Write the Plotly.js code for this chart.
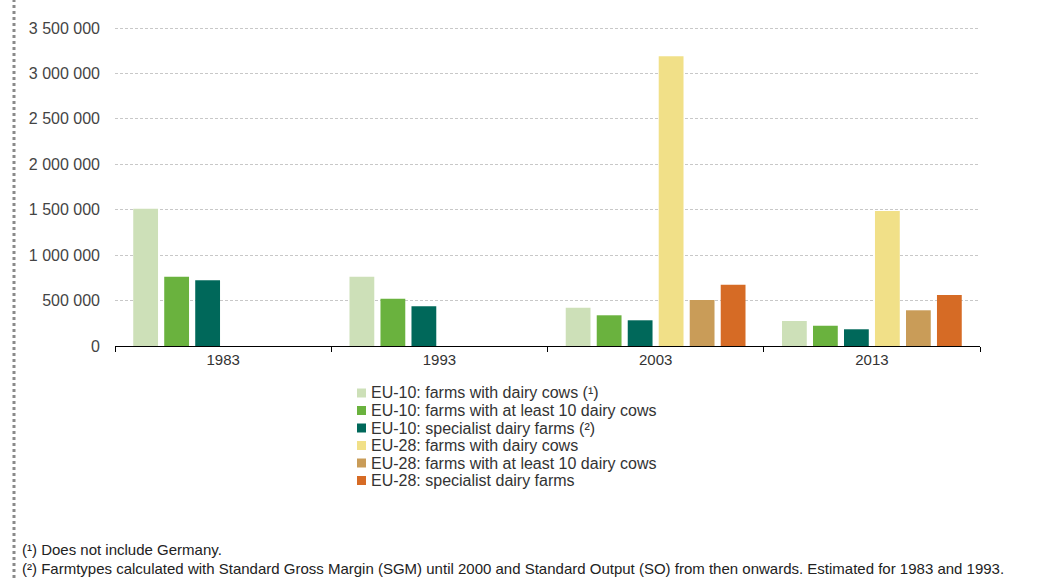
<!DOCTYPE html>
<html>
<head>
<meta charset="utf-8">
<script src="https://cdn.plot.ly/plotly-3.0.1.min.js"></script>
<style>
html,body{margin:0;padding:0;background:#fff;}
#chart{width:1046px;height:578px;}
</style>
</head>
<body>
<div id="chart"></div>
<script>
const years = ["1983", "1993", "2003", "2013"];
const seriesNames = [
  "EU-10: farms with dairy cows (¹)",
  "EU-10: farms with at least 10 dairy cows",
  "EU-10: specialist dairy farms (²)",
  "EU-28: farms with dairy cows",
  "EU-28: farms with at least 10 dairy cows",
  "EU-28: specialist dairy farms"
];
const eu10Farms = [1510000, 762000, 421000, 275000];
const eu10Farms10 = [762000, 520000, 338000, 223000];
const eu10Specialist = [723000, 437000, 283000, 184000];
const eu28Farms = [null, null, 3190000, 1485000];
const eu28Farms10 = [null, null, 506000, 393000];
const eu28Specialist = [null, null, 674000, 561000];
const seriesValues = [eu10Farms, eu10Farms10, eu10Specialist, eu28Farms, eu28Farms10, eu28Specialist];
const colors = ["#cde0b8", "#6ab23e", "#00685a", "#f1e088", "#c99c58", "#d66b25"];
const yTicks = [0, 500000, 1000000, 1500000, 2000000, 2500000, 3000000, 3500000];
const yTickText = ["0", "500 000", "1 000 000", "1 500 000", "2 000 000", "2 500 000", "3 000 000", "3 500 000"];
const footnotes = [
  "(¹) Does not include Germany.",
  "(²) Farmtypes calculated with Standard Gross Margin (SGM) until 2000 and Standard Output (SO) from then onwards. Estimated for 1983 and 1993."
];

const FONT = "Liberation Sans, Arial, sans-serif";
const W = 1046, H = 578;
const M = {l: 115, r: 66, t: 24, b: 232};
const PW = W - M.l - M.r, PH = H - M.t - M.b;
const px = x => (x - M.l) / PW;          // pixel -> paper x
const py = y => (H - M.b - y) / PH;      // pixel -> paper y

const traces = seriesNames.map((n, i) => ({
  type: "bar",
  name: n,
  x: years,
  y: seriesValues[i],
  marker: {color: colors[i], line: {width: 0}},
  hoverinfo: "x+y+name"
}));

// custom legend (tight rows, like the original)
const legendRows = [393, 410.5, 428, 445.5, 463, 480.5];
const legendShapes = seriesNames.map((n, i) => ({
  type: "rect", xref: "paper", yref: "paper",
  x0: px(357), x1: px(366), y0: py(legendRows[i] + 4.5), y1: py(legendRows[i] - 4.5),
  fillcolor: colors[i], line: {width: 0}
}));
const legendAnn = seriesNames.map((n, i) => ({
  text: n, xref: "paper", yref: "paper",
  x: px(369), y: py(legendRows[i]), xanchor: "left", yanchor: "middle",
  showarrow: false, font: {family: FONT, size: 16, color: "#333333"}
}));

const layout = {
  width: W, height: H,
  margin: M,
  paper_bgcolor: "#ffffff", plot_bgcolor: "#ffffff",
  barmode: "group", bargap: 0.14, bargroupgap: 0.2,
  font: {family: FONT, color: "#333333"},
  showlegend: false,
  xaxis: {
    type: "category",
    tickson: "boundaries", ticks: "outside", ticklen: 5, tickcolor: "#000",
    showline: true, linecolor: "#000", linewidth: 1,
    showgrid: false, tickfont: {size: 15, color: "#333333"},
    fixedrange: true
  },
  yaxis: {
    range: [0, 3500000 * PH / 318],
    tickvals: yTicks, ticktext: yTickText,
    showgrid: true, gridcolor: "#c8c8c8", griddash: "3px,2px", gridwidth: 1,
    zeroline: false, showline: false, ticks: "",
    tickfont: {size: 16, color: "#444444"}, ticklabelstandoff: 14,
    fixedrange: true
  },
  shapes: [{
    type: "line", xref: "paper", yref: "paper",
    x0: px(14), x1: px(14), y0: py(H), y1: py(0),
    line: {color: "#8a8a8a", width: 3, dash: "dot"}
  }].concat(legendShapes),
  annotations: footnotes.map((t, i) => ({
    text: t, xref: "paper", yref: "paper",
    x: px(20), y: py(i === 0 ? 549 : 568),
    xanchor: "left", yanchor: "middle", showarrow: false,
    font: {family: FONT, size: 15, color: "#222"}
  })).concat(legendAnn)
};

Plotly.newPlot("chart", traces, layout, {displayModeBar: false, responsive: false});
</script>
</body>
</html>
